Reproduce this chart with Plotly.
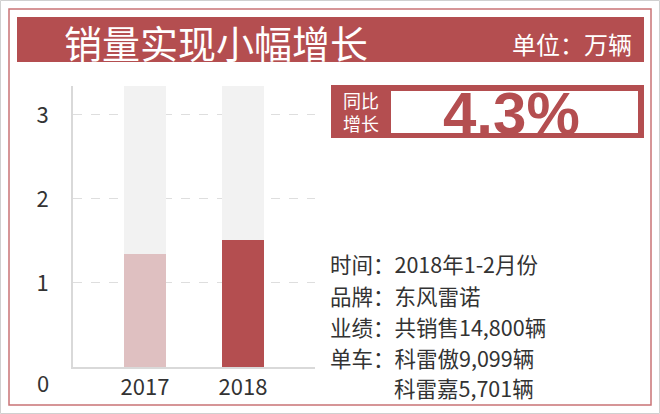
import plotly.graph_objects as go

# data (万辆)
years = ['2017', '2018']
sales = [1.35, 1.51]
track_top = 3.35
y_ticks = [1, 2, 3]
growth = '4.3%'
title = '销量实现小幅增长'
unit = '单位：万辆'
info_lines = ['时间：2018年1-2月份',
              '品牌：东风雷诺',
              '业绩：共销售14,800辆',
              '单车：科雷傲9,099辆']
info_extra = '科雷嘉5,701辆'

RED = '#b44e50'
PINK = '#dfc0c1'
TRACK = '#f2f2f2'
TEXT = '#333333'
CJK = 'Noto Sans CJK SC'

W, H = 660, 414


def px(x):
    return x / W


def py(y):
    return 1 - y / H


fig = go.Figure()

fig.add_trace(go.Bar(x=[0, 1], y=[track_top] * len(years), width=0.43,
                     marker=dict(color=TRACK, line=dict(width=0)), hoverinfo='skip'))
fig.add_trace(go.Bar(x=[0, 1], y=sales, width=0.43,
                     marker=dict(color=[PINK, RED], line=dict(width=0))))

shapes = [
    # outer grey frame and inner red frame
    dict(type='rect', xref='paper', yref='paper', x0=px(0.5), x1=px(659.5), y0=py(413.5), y1=py(0.5),
         line=dict(color='#d0d0d0', width=1)),
    dict(type='rect', xref='paper', yref='paper', x0=px(9), x1=px(651), y0=py(405), y1=py(9),
         line=dict(color='#c97375', width=1.5)),
    # title band
    dict(type='rect', xref='paper', yref='paper', x0=px(17), x1=px(644), y0=py(62), y1=py(17),
         fillcolor=RED, line=dict(width=0)),
    # growth box
    dict(type='rect', xref='paper', yref='paper', x0=px(331), x1=px(644), y0=py(138), y1=py(85),
         fillcolor=RED, line=dict(width=0)),
    dict(type='rect', xref='paper', yref='paper', x0=px(391), x1=px(638), y0=py(133), y1=py(91),
         fillcolor='white', line=dict(width=0)),
]

annotations = [
    dict(text=title, x=px(62), y=py(41), xanchor='left', yanchor='middle',
         font=dict(family=CJK, size=38, color='white')),
    dict(text=unit, x=px(634), y=py(43), xanchor='right', yanchor='middle',
         font=dict(family=CJK, size=24, color='white')),
    dict(text='同比<br>增长', x=px(361), y=py(112), xanchor='center', yanchor='middle',
         font=dict(family=CJK, size=18, color='white')),
    dict(text='<b>%s</b>' % growth, x=px(511), y=py(113), xanchor='center', yanchor='middle',
         font=dict(family='Liberation Sans', size=60, color=RED)),
    dict(text='0', x=px(43), y=py(382), xanchor='center', yanchor='middle',
         font=dict(family=CJK, size=22, color=TEXT)),
]

line_y = [263, 295, 326, 357]
for text, y in zip(info_lines, line_y):
    annotations.append(dict(text=text, x=px(328), y=py(y), xanchor='left', yanchor='middle',
                            font=dict(family=CJK, size=21.5, color=TEXT)))
annotations.append(dict(text=info_extra, x=px(392), y=py(387), xanchor='left', yanchor='middle',
                        font=dict(family=CJK, size=21.5, color=TEXT)))

for a in annotations:
    a.update(xref='paper', yref='paper', showarrow=False)

fig.update_layout(
    width=W, height=H,
    margin=dict(l=0, r=0, t=0, b=0),
    paper_bgcolor='white', plot_bgcolor='white',
    barmode='overlay', bargap=0, showlegend=False,
    shapes=shapes, annotations=annotations,
    xaxis=dict(domain=[px(73), px(315)], range=[-0.735, 1.735],
               tickvals=[0, 1], ticktext=years, showgrid=False, zeroline=False,
               showline=True, linecolor='#d9d9d9', linewidth=2, ticks='',
               tickfont=dict(family=CJK, size=22, color=TEXT)),
    yaxis=dict(domain=[py(367), py(86)], range=[0, 3.345],
               tickvals=y_ticks, showgrid=True, gridcolor='#dedede', griddash='dash',
               gridwidth=1, zeroline=False, showline=True, linecolor='#d9d9d9', linewidth=2,
               ticks='', ticklabelstandoff=18,
               tickfont=dict(family=CJK, size=22, color=TEXT)),
)

# drop the default page margin so the figure sits at the window's top-left corner
fig.write_html('out.html', config={'displayModeBar': False},
               post_script="document.body.style.margin='0';")
